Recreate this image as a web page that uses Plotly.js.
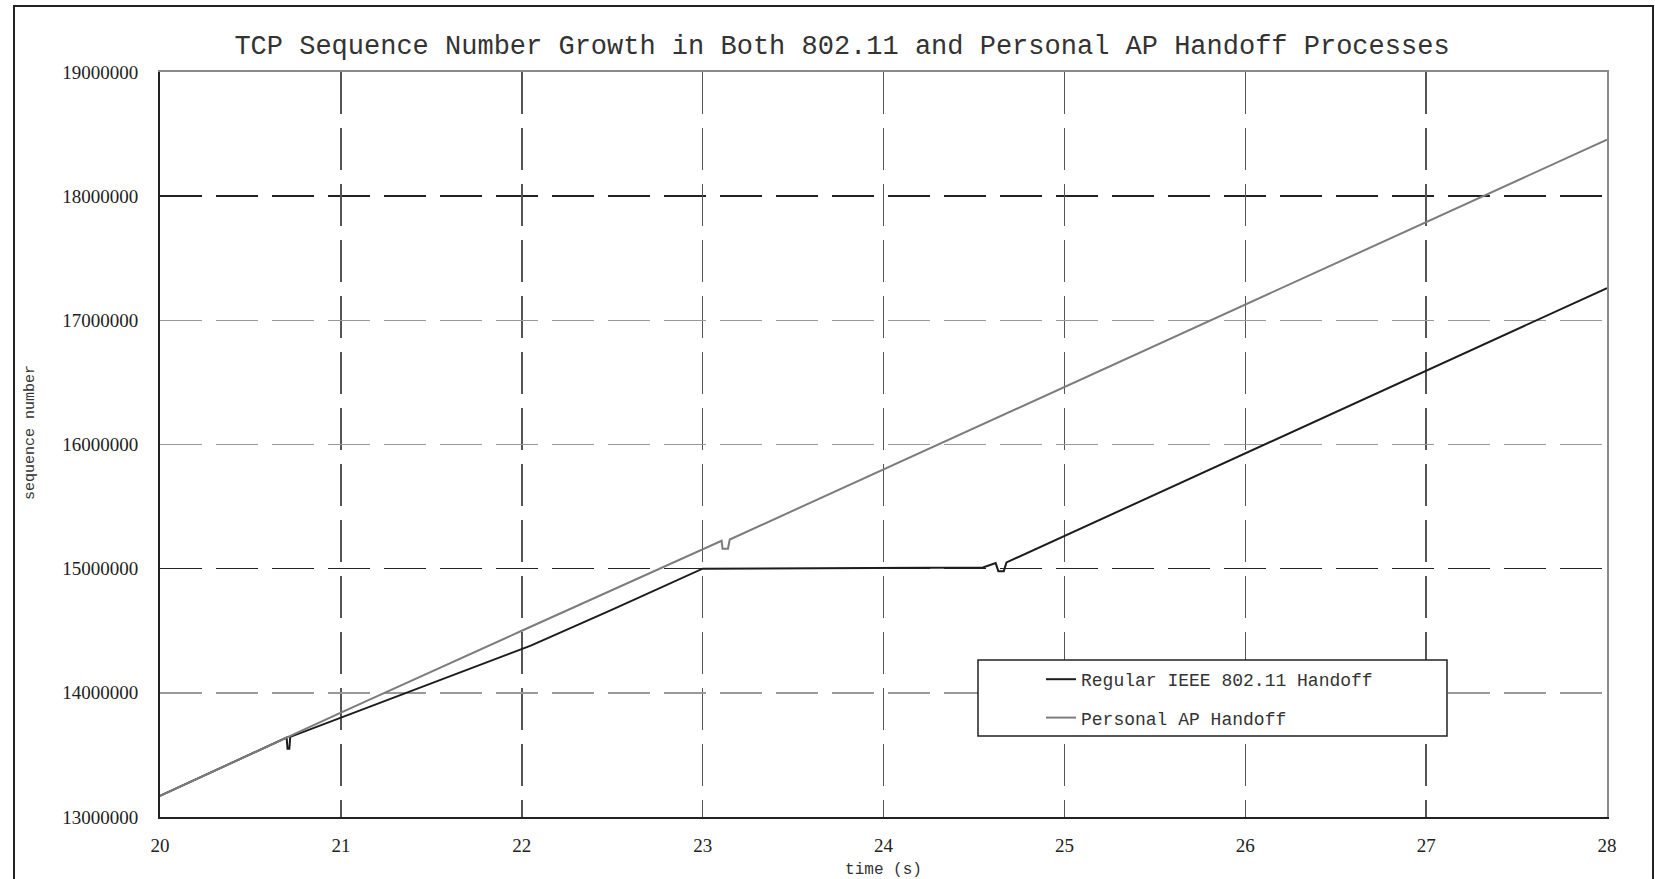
<!DOCTYPE html>
<html>
<head>
<meta charset="utf-8">
<script src="https://cdn.plot.ly/plotly-3.0.1.min.js"></script>
<style>
  html, body { margin: 0; padding: 0; background: #fff; overflow: hidden; }
  #chart { width: 1655px; height: 879px; }
  #frame { position: absolute; left: 13px; top: 5px; width: 1637px; height: 900px;
           border: 2px solid #222; pointer-events: none; }
</style>
</head>
<body>
<div id="chart"></div>
<div id="frame"></div>
<script>
// ---- data (time in s, sequence number) ----
const regularTime = [20.0, 20.70, 20.705, 20.715, 20.72, 21.0, 22.05, 22.5, 23.0, 24.55, 24.62, 24.635, 24.665, 24.68, 28.0];
const regularSeq  = [13170000, 13640000, 13550000, 13550000, 13645000, 13800000, 14380000, 14670000, 15000000, 15010000, 15045000, 14980000, 14980000, 15050000, 17260000];

const personalTime = [20.0, 21.0, 22.0, 23.105, 23.11, 23.14, 23.15, 28.0];
const personalSeq  = [13170000, 13840000, 14500000, 15225000, 15160000, 15160000, 15235000, 18455000];

const seriesNames = ["Regular IEEE 802.11 Handoff", "Personal AP Handoff"];

const xTicks = [20, 21, 22, 23, 24, 25, 26, 27, 28];
const xGridTicks = [21, 22, 23, 24, 25, 26, 27];
const yTicks = [13000000, 14000000, 15000000, 16000000, 17000000, 18000000, 19000000];
const yTickText = ["13000000", "14000000", "15000000", "16000000", "17000000", "18000000", "19000000"];
const yGridLight = [14000000, 16000000, 17000000];
const yGridDark = [15000000, 18000000];

const xRange = [20, 28];
const yRange = [13000000, 19000000];

const monoFont = "Liberation Mono, DejaVu Sans Mono, monospace";
const serifFont = "Liberation Serif, DejaVu Serif, serif";

const traces = [
  { x: regularTime, y: regularSeq, type: "scatter", mode: "lines", name: seriesNames[0],
    line: { color: "#1c1c1c", width: 2 }, legendgroup: "a", xaxis: "x", yaxis: "y" },
  { x: personalTime, y: personalSeq, type: "scatter", mode: "lines", name: seriesNames[1],
    line: { color: "#7c7c7c", width: 2 }, legendgroup: "b", xaxis: "x", yaxis: "y" },
  { x: [], y: [], type: "scatter", mode: "lines", showlegend: false, hoverinfo: "skip", xaxis: "x2", yaxis: "y2" },
  { x: [], y: [], type: "scatter", mode: "lines", showlegend: false, hoverinfo: "skip", xaxis: "x", yaxis: "y3" }
];

const L = 160, R = 48, T = 72, B = 62;
const W = 1655, H = 879;
const pw = W - L - R, ph = H - T - B;
function px2x(p) { return (p - L) / pw; }
function px2y(p) { return (H - B - p) / ph; }

const layout = {
  width: W, height: H,
  margin: { l: L, r: R, t: T, b: B },
  paper_bgcolor: "#ffffff",
  plot_bgcolor: "#ffffff",
  showlegend: true,
  title: {
    text: "TCP Sequence Number Growth in Both 802.11 and Personal AP Handoff Processes",
    font: { family: monoFont, size: 27, color: "#333" },
    x: 842 / W, xref: "container", xanchor: "center",
    y: 1 - 45 / H, yref: "container", yanchor: "middle"
  },
  xaxis: {
    range: xRange, tickvals: xTicks, ticktext: xTicks.map(String),
    showgrid: false, zeroline: false,
    showline: true, linecolor: "#222", linewidth: 2,
    ticks: "", ticklabelstandoff: 10,
    tickfont: { family: serifFont, size: 19, color: "#222" },
    title: { text: "time (s)", font: { family: monoFont, size: 16, color: "#333" }, standoff: 9 }
  },
  xaxis2: {
    overlaying: "x", side: "top", anchor: "y2", range: xRange, tickvals: xGridTicks,
    showticklabels: false, ticks: "", zeroline: false,
    showline: true, linecolor: "#8a8a8a", linewidth: 2,
    showgrid: true, gridcolor: "#555", gridwidth: 1.5, griddash: "42px,14px"
  },
  yaxis: {
    range: yRange, tickvals: yTicks, ticktext: yTickText,
    showgrid: false, zeroline: false,
    showline: true, linecolor: "#222", linewidth: 2,
    ticks: "", ticklabelstandoff: 16,
    tickfont: { family: serifFont, size: 19, color: "#222" }
  },
  yaxis2: {
    overlaying: "y", side: "right", anchor: "x2", range: yRange, tickvals: yGridLight,
    showticklabels: false, ticks: "", zeroline: false,
    showline: true, linecolor: "#8a8a8a", linewidth: 2,
    showgrid: true, gridcolor: "#999", gridwidth: 1.5, griddash: "42px,14px"
  },
  yaxis3: {
    overlaying: "y", side: "left", anchor: "x", range: yRange, tickvals: yGridDark,
    showticklabels: false, ticks: "", zeroline: false, showline: false,
    showgrid: true, gridcolor: "#222", gridwidth: 1.5, griddash: "42px,14px"
  },
  annotations: [
    { text: "sequence number", xref: "paper", yref: "paper",
      x: px2x(31), y: px2y(433), xanchor: "center", yanchor: "middle",
      textangle: -90, showarrow: false,
      font: { family: monoFont, size: 15, color: "#333" } }
  ],
  legend: {
    x: px2x(1041), y: px2y(661), xref: "paper", yref: "paper",
    xanchor: "left", yanchor: "top",
    bgcolor: "rgba(0,0,0,0)", borderwidth: 0,
    traceorder: "grouped", tracegroupgap: 12,
    font: { family: monoFont, size: 18, color: "#333" }
  },
  shapes: [
    { type: "rect", xref: "paper", yref: "paper",
      x0: px2x(978), x1: px2x(1447), y0: px2y(736), y1: px2y(660),
      fillcolor: "#ffffff", line: { color: "#222", width: 1.5 }, layer: "above" }
  ]
};

Plotly.newPlot("chart", traces, layout, { displayModeBar: false, staticPlot: true });
</script>
</body>
</html>
